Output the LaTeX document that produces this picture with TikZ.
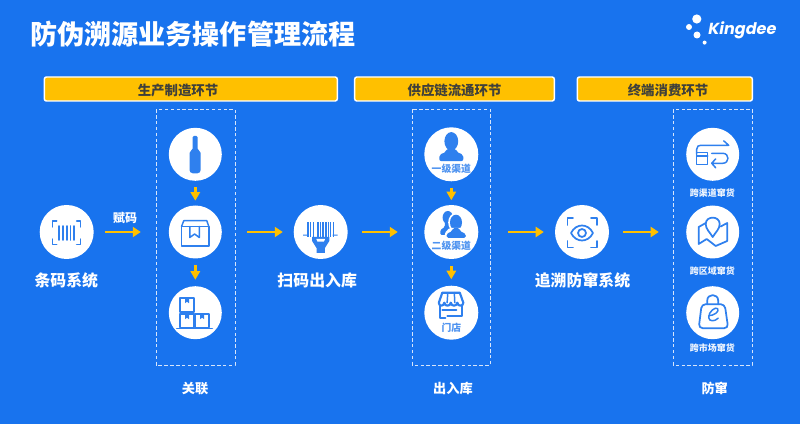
\documentclass[tikz,border=0pt]{standalone}
\usepackage{fontspec}
\usetikzlibrary{arrows.meta}
\setmainfont{Noto Sans CJK SC}
\newfontfamily\logofont{Poppins}
\definecolor{pagebg}{HTML}{1873EE}
\definecolor{amber}{HTML}{FFC000}
\definecolor{iconblue}{HTML}{2F80EE}
\definecolor{barink}{HTML}{40403A}
\definecolor{dashwhite}{HTML}{D6E5FB}
% Font size given in drawing units (1 unit = 0.75pt)
\newcommand{\fs}[1]{\fontsize{\dimexpr#1pt*3/4\relax}{\dimexpr#1pt*9/10\relax}\selectfont}
\tikzset{
  x=0.75pt,y=-0.75pt,
  disc/.style={circle,fill=white,draw=none,minimum size=39.75pt,inner sep=0pt},
  stage/.style={rounded corners=1.6pt,fill=amber,draw=white,line width=1.1pt},
  stagetext/.style={font=\fs{13.4}\bfseries,text=barink,inner sep=0pt},
  zone/.style={draw=dashwhite,line width=0.75pt,dash pattern=on 2.6pt off 1.8pt},
  flow/.style={draw=amber,line width=2.1pt,-{Triangle[length=6pt,width=7.5pt]}},
  drop/.style={draw=amber,line width=2.1pt,-{Triangle[length=6.5pt,width=7pt]}},
  iconline/.style={draw=iconblue,line width=1.1pt,line cap=round,line join=round},
  iconfill/.style={fill=iconblue,draw=none},
  bigtext/.style={font=\fs{15.9}\bfseries,text=white,inner sep=0pt},
  midtext/.style={font=\fs{13.2}\bfseries,text=white,inner sep=0pt},
  smalltext/.style={font=\fs{9}\bfseries,text=white!92!iconblue,inner sep=0pt},
  disctext/.style={font=\fs{9.8}\bfseries,text=iconblue!85!white,inner sep=0pt},
}
\begin{document}
\begin{tikzpicture}
\useasboundingbox (0,0) rectangle (800,424);
\fill[pagebg] (0,0) rectangle (800,424);

% Heading and logo
\node[font=\fs{27.1}\bfseries,text=white,inner sep=0pt,anchor=west] (heading) at (30,34) {防伪溯源业务操作管理流程};
\fill[white] (696.8,19) circle (4.6) (689,27) circle (3) (697,35) circle (3.5) (704.6,42.6) circle (2);
\node[font=\logofont\fs{16}\bfseries\itshape,text=white,inner sep=0pt,anchor=west] (brand) at (708,30) {Kingdee};

% Stage bars
\draw[stage] (44.3,77) rectangle (337.3,101);
\draw[stage] (354.7,77) rectangle (554.3,101);
\draw[stage] (577.3,77) rectangle (752.3,101);
\node[stagetext] (stageA) at (178,90) {生产制造环节};
\node[stagetext] (stageB) at (454.5,90) {供应链流通环节};
\node[stagetext] (stageC) at (668,90) {终端消费环节};

% Dashed groups
\draw[zone] (156,109.3) rectangle (235,365);
\draw[zone] (412.3,109.3) rectangle (490.3,365);
\draw[zone] (673.3,109.3) rectangle (752,365);

% Discs
\node[disc,minimum size=40.5pt] (barcode) at (66.7,232) {};
\node[disc] (bottle) at (195.3,154.3) {};
\node[disc] (carton) at (195.3,232) {};
\node[disc] (stack) at (195.3,312.7) {};
\node[disc,minimum size=40.5pt] (scanner) at (320.7,232) {};
\node[disc,minimum size=40.5pt] (levelone) at (451.3,154.3) {};
\node[disc,minimum size=40.5pt] (leveltwo) at (451.3,232) {};
\node[disc,minimum size=40.5pt] (shop) at (451.3,312.7) {};
\node[disc,minimum size=40.5pt] (eye) at (582,232) {};
\node[disc] (swap) at (712.7,154.3) {};
\node[disc] (region) at (712.7,232) {};
\node[disc] (market) at (712.7,312.7) {};

% Connectors
\draw[flow,shorten <=8.5pt,shorten >=20.8pt] (barcode.east) -- (carton.west);
\draw[flow,shorten <=18.9pt,shorten >=8pt] (carton.east) -- (scanner.west);
\draw[flow,shorten <=10.7pt,shorten >=19.7pt] (scanner.east) -- (leveltwo.west);
\draw[flow,shorten <=22.3pt,shorten >=8.25pt] (leveltwo.east) -- (eye.west);
\draw[flow,shorten <=10.5pt,shorten >=20.4pt] (eye.east) -- (region.west);
\draw[drop,shorten <=4.6pt,shorten >=3.4pt] (bottle.south) -- (carton.north);
\draw[drop,shorten <=4.9pt,shorten >=4.6pt] (carton.south) -- (stack.north);
\draw[drop,shorten <=4.6pt,shorten >=3.4pt] (levelone.south) -- (leveltwo.north);
\draw[drop,shorten <=4.9pt,shorten >=4.6pt] (leveltwo.south) -- (shop.north);

% Barcode frame
\begin{scope}[shift={(barcode)}]
  \draw[iconline] (-10,-11) -- (-14,-11) -- (-14,-5) (10,-11) -- (14,-11) -- (14,-5)
                  (-14,7) -- (-14,12.5) -- (-10,12.5) (14,7) -- (14,12.5) -- (10,12.5);
  \draw[iconline,line width=1.3pt] (-7.5,-6) -- (-7.5,8) (-3.7,-6) -- (-3.7,8) (0,-6) -- (0,8) (3.7,-6) -- (3.7,8) (7.5,-6) -- (7.5,8);
\end{scope}

% Bottle
\begin{scope}[shift={(bottle)}]
  \fill[iconfill,rounded corners=1pt] (-2.6,-18.5) -- (2.2,-18.5) -- (2.2,-7) .. controls (2.4,-4) and (5.4,-3) .. (5.4,0)
     -- (5.4,17) -- (3.5,19) -- (-3.8,19) -- (-5.8,17) -- (-5.8,0) .. controls (-5.8,-3) and (-2.8,-4) .. (-2.6,-7) -- cycle;
\end{scope}

% Carton with ribbon
\begin{scope}[shift={(carton)}]
  \draw[iconline] (-13.8,-5.5) rectangle (13.5,14);
  \draw[iconline] (-13.8,-5.5) -- (-11.5,-11.3) -- (11.5,-11.3) -- (13.5,-5.5);
  \draw[iconline] (-5.5,-5.5) -- (-5.5,5.5) -- (-0.7,2) -- (4,5.5) -- (4,-5.5);
\end{scope}

% Stacked cartons on a pallet
\begin{scope}[shift={(stack)}]
  \draw[iconline] (-15.3,-14.7) rectangle (-1.3,-0.5);
  \draw[iconline] (-15.3,1.3) rectangle (-1.3,14.6);
  \draw[iconline] (-0.2,1.3) rectangle (13.7,14.6);
  \draw[iconline] (-18.6,16) -- (17,16);
  \fill[iconfill] (-10.3,-14.7) -- (-6.3,-14.7) -- (-6.3,-9.5) -- (-8.3,-11) -- (-10.3,-9.5) -- cycle
     (-10.3,1.3) -- (-6.3,1.3) -- (-6.3,6.5) -- (-8.3,5) -- (-10.3,6.5) -- cycle
     (4.8,1.3) -- (8.8,1.3) -- (8.8,6.5) -- (6.8,5) -- (4.8,6.5) -- cycle;
\end{scope}

% Scanner reading a barcode
\begin{scope}[shift={(scanner)}]
  \foreach \bx/\bw in {-13.6/1.6,-10.4/0.8,-7.8/1.4,-4/2,-0.6/0.8,1.6/1.4,4.4/1.6,7.6/0.8,9.6/1,11.8/1.6}
    \fill[iconfill] (\bx,-10.3) rectangle ++(\bw,15);
  \fill[iconfill] (-17.5,2.6) rectangle (-12.5,3.6) (12,2.6) rectangle (17,3.6);
  \fill[iconfill] (-8.6,5) -- (8.6,5) -- (8.6,9) -- (4.2,16) -- (4.2,21) -- (-4.2,21) -- (-4.2,16) -- (-8.6,9) -- cycle;
  \fill[white] (-4.4,7) -- (4.4,7) -- (3.2,9.6) -- (-3.2,9.6) -- cycle;
\end{scope}

% One person
\begin{scope}[shift={(levelone)}]
  \fill[iconfill] (0,-13) ellipse (6.9 and 9.2);
  \fill[iconfill,rounded corners=1.5pt] (-4.5,-6) -- (4.5,-6) -- (5,-2.5) -- (12,0.5) -- (12,6.8) -- (-12,6.8) -- (-12,0.5) -- (-5,-2.5) -- cycle;
\end{scope}
\node[disctext] (levelonetext) at (451.3,168.4) {一级渠道};

% Two people
\begin{scope}[shift={(leveltwo)}]
  \fill[iconfill] (-3.5,-14.5) ellipse (5.2 and 6.5);
  \fill[iconfill,rounded corners=1pt] (-6.5,-10) -- (0,-10) -- (0,-4) -- (-4,-1) -- (-4,3) -- (-11,3) -- (-11,-2) -- (-6.5,-5) -- cycle;
  \fill[white] (4.7,-9.5) ellipse (7.8 and 9.6);
  \fill[iconfill] (4.7,-9.5) ellipse (6 and 7.8);
  \fill[white,rounded corners=1pt] (-2,-4) -- (11,-4) -- (16,1) -- (16,7.2) -- (-6.5,7.2) -- (-6.5,1) -- cycle;
  \fill[iconfill,rounded corners=1.2pt] (1.5,-4) -- (8,-4) -- (8.5,-1) -- (14.5,2) -- (14.5,5.8) -- (-4.8,5.8) -- (-4.8,2) -- (1,-1) -- cycle;
\end{scope}
\node[disctext] (leveltwotext) at (451.3,245.8) {二级渠道};

% Shop front with awning
\begin{scope}[shift={(shop)}]
  \draw[iconline,line width=1.6pt] (-9,-20) -- (8.5,-20) -- (12,-10) .. controls (12,-6) and (6.5,-6) .. (6,-10)
     .. controls (5.5,-6) and (0,-6) .. (-0.5,-10) .. controls (-1,-6) and (-6.5,-6) .. (-7,-10)
     .. controls (-7.5,-6) and (-12.5,-6) .. (-12.5,-10) -- cycle;
  \draw[iconline,line width=1.1pt] (-3.5,-20) -- (-4.2,-10) (3,-20) -- (3.5,-10);
  \draw[iconline,line width=1.5pt] (-11,-7) -- (-11,5) -- (-6,5) (11,-7) -- (11,3.5) -- (-4,3.5);
  \draw[iconline,line width=1.5pt] (-9,-2.5) -- (5,-2.5);
\end{scope}
\node[disctext] (shoptext) at (451.3,327.8) {门店};

% Eye inside a frame
\begin{scope}[shift={(eye)}]
  \draw[iconline,line width=1.3pt] (-9,-14) -- (-14.5,-14) -- (-14.5,-7) (9,-14) -- (15,-14) -- (15,-7)
       (-14.5,9) -- (-14.5,15.5) -- (-9,15.5) (15,9) -- (15,15.5) -- (9,15.5);
  \draw[iconline,line width=1.3pt] (-11,1) .. controls (-6,-9) and (6,-9) .. (11,1) .. controls (6,11) and (-6,11) .. (-11,1) -- cycle;
  \draw[iconline,line width=1.3pt] (0,1) circle (4);
\end{scope}

% Swap between channels
\begin{scope}[shift={(swap)}]
  \draw[iconline] (-16,0) -- (-16,-5) .. controls (-16,-8) and (-14,-9) .. (-12,-9) -- (16,-9) (11,-13.5) -- (16,-9);
  \draw[iconline] (-16,-2) rectangle (-5,10);
  \draw[iconline] (-16,1.5) -- (-5,1.5);
  \draw[iconline] (-1,-1) -- (10,-1) .. controls (17,-1) and (17,9) .. (10,9) -- (-1,9) (3,4.5) -- (-1,9) -- (3,13.5);
\end{scope}
\node[smalltext] (swaptext) at (712.3,193) {跨渠道窜货};

% Map with location pin
\begin{scope}[shift={(region)}]
  \draw[iconline,line width=1.3pt] (0,5) .. controls (-3,0) and (-7,-3) .. (-7,-8) .. controls (-7,-16.5) and (7,-16.5) .. (7,-8) .. controls (7,-3) and (3,0) .. (0,5) -- cycle;
  \draw[iconline,line width=1.3pt] (-7,-9) -- (-14,-5) -- (-14,12) -- (-6,7) -- (3,14) -- (14.5,9) -- (14.5,-9) -- (8,-5.5);
\end{scope}
\node[smalltext] (regiontext) at (712.3,270.7) {跨区域窜货};

% Shopping bag with script letter
\begin{scope}[shift={(market)}]
  \draw[iconline,line width=1.3pt,rounded corners=3pt] (-11,-8.5) -- (12,-8.5) -- (15.5,15.5) -- (-14,15.5) -- cycle;
  \draw[iconline,line width=1.3pt] (-5.5,-8.5) -- (-5.5,-12) .. controls (-5.5,-19.5) and (5.5,-19.5) .. (5.5,-12) -- (5.5,-8.5);
  \draw[iconline,line width=1.1pt] (-4,3) .. controls (1,3) and (7,-1) .. (5,-4) .. controls (3,-6.5) and (-4.5,-1) .. (-4,5)
       .. controls (-3.7,9) and (2,9) .. (5.5,5.5);
\end{scope}
\node[smalltext] (markettext) at (712.3,347.7) {跨市场窜货};

% Captions
\node[font=\fs{12}\bfseries,text=white,inner sep=0pt] (assign) at (125,218) {赋码};
\node[bigtext] (barcodetext) at (66.3,280) {条码系统};
\node[bigtext] (scannertext) at (317.2,280) {扫码出入库};
\node[bigtext] (eyetext) at (582.5,280) {追溯防窜系统};
\node[midtext] (linktext) at (195,388.7) {关联};
\node[midtext] (stocktext) at (453,388.7) {出入库};
\node[midtext] (guardtext) at (714.7,388.7) {防窜};
\end{tikzpicture}
\end{document}
